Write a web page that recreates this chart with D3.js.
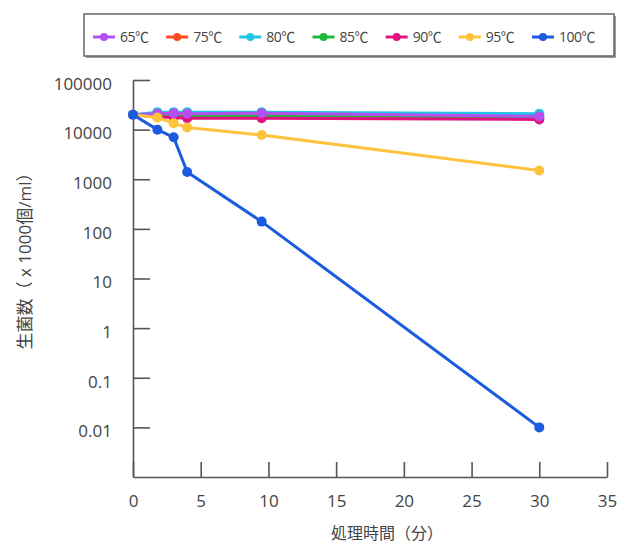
<!doctype html>
<html>
    <head>
        <meta charset="utf-8">
        <title>heat treatment survival</title>
        <script src="https://d3js.org/d3.v7.min.js"></script>
        <style type="text/css">
            body { margin:0; background:#fff; }
            text { font-family:"Open Sans", "Noto Sans CJK JP", sans-serif; fill:#444; }
            .axis text { font-size:17px; }
            .axis path, .axis line { stroke:#555; stroke-width:1.6; }
        </style>
    </head>
    <body>
        <svg></svg>
        <script type="text/javascript">

            var w = 640,
                h = 546;

            // sampling times (minutes)
            var times = [0, 1.8, 3, 4, 9.5, 30];

            var labels = ['65℃', '75℃', '80℃', '85℃', '90℃', '95℃', '100℃'];
            var colors = ['#b44ff2', '#ff4b1f', '#22c6e4', '#22b83a', '#e0137f', '#ffc23c', '#1a5be0'];

            // survivors (x 1000 / ml)
            var s65  = [20000, 21000, 21500, 21000, 21500, 18500];
            var s75  = [20000, 19000, 19000, 18500, 18500, 17500];
            var s80  = [20000, 22500, 22500, 22500, 22500, 21000];
            var s85  = [20000, 19500, 19500, 19000, 19000, 18000];
            var s90  = [20000, 18000, 17500, 17000, 17000, 16000];
            var s95  = [20000, 17500, 13500, 11000, 7800, 1500];
            var s100 = [20000, 10000, 7000, 1400, 140, 0.01];

            var xTicks = [0, 5, 10, 15, 20, 25, 30, 35];
            var yTicks = [0.01, 0.1, 1, 10, 100, 1000, 10000, 100000];

            var series = [s65, s75, s80, s85, s90, s95, s100].map(function(vals, i) {
                return { name: labels[i], color: colors[i], values: vals.map(function(v, j) {
                    return { t: times[j], v: v };
                }) };
            });
            // draw order (purple sits over cyan / magenta, blue on top)
            var drawOrder = [1, 3, 4, 2, 0, 5, 6];

            var x = d3.scaleLinear().domain([0, 35]).range([133, 607]);
            var y = d3.scaleLog().domain([0.001, 100000]).range([477, 80]);

            var svg = d3.select('svg')
                .attr('width', w)
                .attr('height', h);

            // legend
            var legX = d3.scalePoint().domain(labels).range([104, 543]);
            svg.append('rect')
                .attr('x', 86).attr('y', 16).attr('width', 530).attr('height', 42)
                .attr('fill', '#999');
            svg.append('rect')
                .attr('x', 84).attr('y', 14).attr('width', 530).attr('height', 42)
                .attr('fill', '#fff').attr('stroke', '#666').attr('stroke-width', 1.5);

            var leg = svg.selectAll('g.leg')
                .data(series)
                .enter()
                .append('g')
                .attr('class', 'leg')
                .attr('transform', function(d) { return 'translate(' + legX(d.name) + ',37)'; });
            leg.append('line')
                .attr('x1', -11).attr('x2', 11)
                .attr('stroke', function(d) { return d.color; })
                .attr('stroke-width', 3);
            leg.append('circle')
                .attr('r', 4)
                .attr('fill', function(d) { return d.color; });
            leg.append('text')
                .attr('x', 16)
                .attr('dy', '0.35em')
                .style('font-size', '14px')
                .style('letter-spacing', '-0.5px')
                .text(function(d) { return d.name; });

            // axes
            svg.append('g')
                .attr('class', 'axis')
                .attr('transform', 'translate(0,477)')
                .call(d3.axisBottom(x).tickValues(xTicks).tickFormat(d3.format('d'))
                    .tickSizeInner(-15).tickSizeOuter(0).tickPadding(18));

            svg.append('g')
                .attr('class', 'axis')
                .attr('transform', 'translate(133,0)')
                .call(d3.axisLeft(y).tickValues(yTicks).tickFormat(function(d) { return String(d); })
                    .tickSizeInner(-17).tickSizeOuter(0).tickPadding(21))
                .selectAll('text').attr('dy', '0.55em');

            // series
            var line = d3.line()
                .x(function(d) { return x(d.t); })
                .y(function(d) { return y(d.v); });

            var g = svg.selectAll('g.series')
                .data(drawOrder.map(function(i) { return series[i]; }))
                .enter()
                .append('g')
                .attr('class', 'series');
            g.append('path')
                .attr('d', function(d) { return line(d.values); })
                .attr('fill', 'none')
                .attr('stroke', function(d) { return d.color; })
                .attr('stroke-width', 3);
            g.selectAll('circle')
                .data(function(d) { return d.values.map(function(p) { return { t: p.t, v: p.v, c: d.color }; }); })
                .enter()
                .append('circle')
                .attr('cx', function(d) { return x(d.t); })
                .attr('cy', function(d) { return y(d.v); })
                .attr('r', 5)
                .attr('fill', function(d) { return d.c; });

            // axis titles
            svg.append('text')
                .attr('x', 387).attr('y', 533)
                .attr('text-anchor', 'middle')
                .attr('dy', '0.35em')
                .style('font-size', '16px')
                .text('処理時間（分）');

            svg.append('text')
                .attr('transform', 'translate(25,257) rotate(-90)')
                .attr('text-anchor', 'middle')
                .attr('dy', '0.35em')
                .style('font-size', '17px')
                .text('生菌数（ x 1000個/ml）');
        </script>
    </body>
</html>
